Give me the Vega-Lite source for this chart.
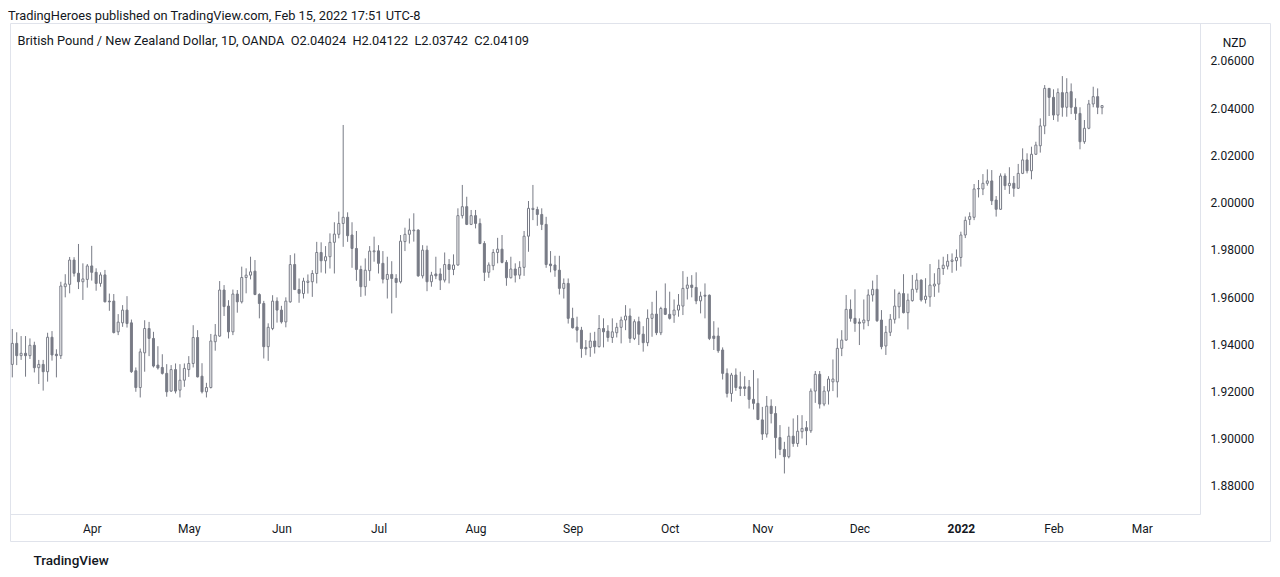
{
"$schema": "https://vega.github.io/schema/vega-lite/v6.json",
"width": 1260, "height": 518,
"autosize": {"type": "none"},
"padding": {"left": 10, "top": 23, "right": 10, "bottom": 36},
"background": "#ffffff",
"config": {"view": {"stroke": "#e0e3eb", "strokeWidth": 1}, "font": "Roboto"},
"title": {"text": "TradingHeroes published on TradingView.com, Feb 15, 2022 17:51 UTC-8", "subtitle": "\u200b\u00a0\u00a0\u00a0British Pound / New Zealand Dollar, 1D, OANDA\u00a0\u00a0O2.04024\u00a0\u00a0H2.04122\u00a0\u00a0L2.03742\u00a0\u00a0C2.04109", "anchor": "start", "frame": "group", "orient": "top", "offset": -25, "dx": -2, "font": "Roboto", "fontSize": 12.8, "fontWeight": "normal", "color": "#131722", "subtitleFont": "Roboto", "subtitleFontSize": 12.8, "subtitleColor": "#131722", "subtitlePadding": 12},
"data": {"values": [
{"d":"2021-03-08","o":1.9315,"h":1.9465,"l":1.9260,"c":1.9404},
{"d":"2021-03-09","o":1.9404,"h":1.9451,"l":1.9312,"c":1.9352},
{"d":"2021-03-10","o":1.9352,"h":1.9435,"l":1.9334,"c":1.9362},
{"d":"2021-03-11","o":1.9362,"h":1.9435,"l":1.9263,"c":1.9352},
{"d":"2021-03-12","o":1.9352,"h":1.9425,"l":1.9338,"c":1.9396},
{"d":"2021-03-15","o":1.9396,"h":1.9411,"l":1.9281,"c":1.9301},
{"d":"2021-03-16","o":1.9301,"h":1.9334,"l":1.9232,"c":1.9315},
{"d":"2021-03-17","o":1.9315,"h":1.9334,"l":1.9204,"c":1.9284},
{"d":"2021-03-18","o":1.9284,"h":1.9449,"l":1.9242,"c":1.9430},
{"d":"2021-03-19","o":1.9430,"h":1.9456,"l":1.9331,"c":1.9355},
{"d":"2021-03-22","o":1.9358,"h":1.9379,"l":1.9260,"c":1.9352},
{"d":"2021-03-23","o":1.9352,"h":1.9665,"l":1.9338,"c":1.9647},
{"d":"2021-03-24","o":1.9644,"h":1.9697,"l":1.9599,"c":1.9656},
{"d":"2021-03-25","o":1.9654,"h":1.9770,"l":1.9616,"c":1.9757},
{"d":"2021-03-26","o":1.9757,"h":1.9769,"l":1.9687,"c":1.9701},
{"d":"2021-03-29","o":1.9701,"h":1.9825,"l":1.9634,"c":1.9665},
{"d":"2021-03-30","o":1.9665,"h":1.9743,"l":1.9588,"c":1.9677},
{"d":"2021-03-31","o":1.9675,"h":1.9740,"l":1.9640,"c":1.9732},
{"d":"2021-04-01","o":1.9732,"h":1.9817,"l":1.9670,"c":1.9705},
{"d":"2021-04-02","o":1.9705,"h":1.9722,"l":1.9627,"c":1.9658},
{"d":"2021-04-05","o":1.9658,"h":1.9705,"l":1.9644,"c":1.9694},
{"d":"2021-04-06","o":1.9694,"h":1.9715,"l":1.9578,"c":1.9580},
{"d":"2021-04-07","o":1.9583,"h":1.9615,"l":1.9542,"c":1.9580},
{"d":"2021-04-08","o":1.9583,"h":1.9613,"l":1.9446,"c":1.9450},
{"d":"2021-04-09","o":1.9453,"h":1.9528,"l":1.9439,"c":1.9494},
{"d":"2021-04-12","o":1.9491,"h":1.9566,"l":1.9474,"c":1.9545},
{"d":"2021-04-13","o":1.9545,"h":1.9604,"l":1.9471,"c":1.9488},
{"d":"2021-04-14","o":1.9491,"h":1.9505,"l":1.9279,"c":1.9284},
{"d":"2021-04-15","o":1.9288,"h":1.9302,"l":1.9199,"c":1.9217},
{"d":"2021-04-16","o":1.9217,"h":1.9382,"l":1.9175,"c":1.9368},
{"d":"2021-04-19","o":1.9364,"h":1.9502,"l":1.9284,"c":1.9467},
{"d":"2021-04-20","o":1.9467,"h":1.9495,"l":1.9350,"c":1.9425},
{"d":"2021-04-21","o":1.9425,"h":1.9453,"l":1.9302,"c":1.9308},
{"d":"2021-04-22","o":1.9312,"h":1.9392,"l":1.9293,"c":1.9300},
{"d":"2021-04-23","o":1.9302,"h":1.9358,"l":1.9272,"c":1.9277},
{"d":"2021-04-26","o":1.9277,"h":1.9316,"l":1.9178,"c":1.9199},
{"d":"2021-04-27","o":1.9202,"h":1.9312,"l":1.9199,"c":1.9293},
{"d":"2021-04-28","o":1.9293,"h":1.9319,"l":1.9192,"c":1.9202},
{"d":"2021-04-29","o":1.9206,"h":1.9316,"l":1.9175,"c":1.9248},
{"d":"2021-04-30","o":1.9248,"h":1.9319,"l":1.9220,"c":1.9298},
{"d":"2021-05-03","o":1.9293,"h":1.9350,"l":1.9262,"c":1.9319},
{"d":"2021-05-04","o":1.9319,"h":1.9481,"l":1.9302,"c":1.9429},
{"d":"2021-05-05","o":1.9429,"h":1.9460,"l":1.9260,"c":1.9262},
{"d":"2021-05-06","o":1.9265,"h":1.9320,"l":1.9192,"c":1.9199},
{"d":"2021-05-07","o":1.9199,"h":1.9237,"l":1.9175,"c":1.9217},
{"d":"2021-05-10","o":1.9217,"h":1.9444,"l":1.9213,"c":1.9414},
{"d":"2021-05-11","o":1.9411,"h":1.9486,"l":1.9373,"c":1.9439},
{"d":"2021-05-12","o":1.9435,"h":1.9668,"l":1.9432,"c":1.9630},
{"d":"2021-05-13","o":1.9630,"h":1.9651,"l":1.9520,"c":1.9560},
{"d":"2021-05-14","o":1.9562,"h":1.9587,"l":1.9425,"c":1.9453},
{"d":"2021-05-17","o":1.9453,"h":1.9632,"l":1.9439,"c":1.9613},
{"d":"2021-05-18","o":1.9613,"h":1.9630,"l":1.9534,"c":1.9580},
{"d":"2021-05-19","o":1.9580,"h":1.9729,"l":1.9573,"c":1.9683},
{"d":"2021-05-20","o":1.9683,"h":1.9722,"l":1.9616,"c":1.9693},
{"d":"2021-05-21","o":1.9693,"h":1.9771,"l":1.9675,"c":1.9707},
{"d":"2021-05-24","o":1.9710,"h":1.9757,"l":1.9608,"c":1.9611},
{"d":"2021-05-25","o":1.9611,"h":1.9616,"l":1.9510,"c":1.9573},
{"d":"2021-05-26","o":1.9573,"h":1.9584,"l":1.9340,"c":1.9390},
{"d":"2021-05-27","o":1.9390,"h":1.9489,"l":1.9330,"c":1.9472},
{"d":"2021-05-28","o":1.9467,"h":1.9608,"l":1.9460,"c":1.9583},
{"d":"2021-05-31","o":1.9583,"h":1.9599,"l":1.9492,"c":1.9545},
{"d":"2021-06-01","o":1.9545,"h":1.9563,"l":1.9488,"c":1.9495},
{"d":"2021-06-02","o":1.9495,"h":1.9599,"l":1.9472,"c":1.9583},
{"d":"2021-06-03","o":1.9580,"h":1.9778,"l":1.9576,"c":1.9738},
{"d":"2021-06-04","o":1.9738,"h":1.9785,"l":1.9630,"c":1.9632},
{"d":"2021-06-07","o":1.9632,"h":1.9679,"l":1.9576,"c":1.9616},
{"d":"2021-06-08","o":1.9615,"h":1.9682,"l":1.9594,"c":1.9668},
{"d":"2021-06-09","o":1.9662,"h":1.9696,"l":1.9615,"c":1.9668},
{"d":"2021-06-10","o":1.9665,"h":1.9714,"l":1.9601,"c":1.9700},
{"d":"2021-06-11","o":1.9700,"h":1.9834,"l":1.9658,"c":1.9789},
{"d":"2021-06-14","o":1.9789,"h":1.9832,"l":1.9704,"c":1.9754},
{"d":"2021-06-15","o":1.9754,"h":1.9816,"l":1.9700,"c":1.9771},
{"d":"2021-06-16","o":1.9771,"h":1.9870,"l":1.9721,"c":1.9832},
{"d":"2021-06-17","o":1.9832,"h":1.9917,"l":1.9700,"c":1.9867},
{"d":"2021-06-18","o":1.9866,"h":1.9962,"l":1.9849,"c":1.9912},
{"d":"2021-06-21","o":1.9912,"h":2.0329,"l":1.9813,"c":1.9938},
{"d":"2021-06-22","o":1.9938,"h":1.9959,"l":1.9834,"c":1.9860},
{"d":"2021-06-23","o":1.9863,"h":1.9917,"l":1.9724,"c":1.9806},
{"d":"2021-06-24","o":1.9806,"h":1.9880,"l":1.9669,"c":1.9717},
{"d":"2021-06-25","o":1.9717,"h":1.9733,"l":1.9601,"c":1.9644},
{"d":"2021-06-28","o":1.9644,"h":1.9764,"l":1.9606,"c":1.9714},
{"d":"2021-06-29","o":1.9712,"h":1.9816,"l":1.9669,"c":1.9795},
{"d":"2021-06-30","o":1.9792,"h":1.9856,"l":1.9750,"c":1.9796},
{"d":"2021-07-01","o":1.9796,"h":1.9820,"l":1.9700,"c":1.9743},
{"d":"2021-07-02","o":1.9743,"h":1.9795,"l":1.9658,"c":1.9676},
{"d":"2021-07-05","o":1.9675,"h":1.9771,"l":1.9594,"c":1.9696},
{"d":"2021-07-06","o":1.9696,"h":1.9752,"l":1.9531,"c":1.9679},
{"d":"2021-07-07","o":1.9679,"h":1.9697,"l":1.9597,"c":1.9662},
{"d":"2021-07-08","o":1.9665,"h":1.9863,"l":1.9658,"c":1.9837},
{"d":"2021-07-09","o":1.9835,"h":1.9894,"l":1.9795,"c":1.9866},
{"d":"2021-07-12","o":1.9866,"h":1.9933,"l":1.9827,"c":1.9884},
{"d":"2021-07-13","o":1.9881,"h":1.9955,"l":1.9835,"c":1.9884},
{"d":"2021-07-14","o":1.9884,"h":1.9887,"l":1.9686,"c":1.9690},
{"d":"2021-07-15","o":1.9690,"h":1.9820,"l":1.9679,"c":1.9799},
{"d":"2021-07-16","o":1.9799,"h":1.9818,"l":1.9625,"c":1.9665},
{"d":"2021-07-19","o":1.9665,"h":1.9707,"l":1.9644,"c":1.9693},
{"d":"2021-07-20","o":1.9698,"h":1.9771,"l":1.9676,"c":1.9690},
{"d":"2021-07-21","o":1.9698,"h":1.9722,"l":1.9630,"c":1.9672},
{"d":"2021-07-22","o":1.9672,"h":1.9789,"l":1.9662,"c":1.9738},
{"d":"2021-07-23","o":1.9738,"h":1.9761,"l":1.9658,"c":1.9717},
{"d":"2021-07-26","o":1.9717,"h":1.9781,"l":1.9693,"c":1.9736},
{"d":"2021-07-27","o":1.9736,"h":1.9976,"l":1.9733,"c":1.9945},
{"d":"2021-07-28","o":1.9945,"h":2.0075,"l":1.9933,"c":1.9983},
{"d":"2021-07-29","o":1.9983,"h":2.0025,"l":1.9905,"c":1.9908},
{"d":"2021-07-30","o":1.9908,"h":1.9969,"l":1.9905,"c":1.9945},
{"d":"2021-08-02","o":1.9945,"h":1.9969,"l":1.9891,"c":1.9912},
{"d":"2021-08-03","o":1.9912,"h":1.9933,"l":1.9824,"c":1.9827},
{"d":"2021-08-04","o":1.9827,"h":1.9837,"l":1.9668,"c":1.9705},
{"d":"2021-08-05","o":1.9705,"h":1.9747,"l":1.9682,"c":1.9736},
{"d":"2021-08-06","o":1.9733,"h":1.9803,"l":1.9714,"c":1.9789},
{"d":"2021-08-09","o":1.9789,"h":1.9851,"l":1.9743,"c":1.9803},
{"d":"2021-08-10","o":1.9803,"h":1.9863,"l":1.9743,"c":1.9747},
{"d":"2021-08-11","o":1.9747,"h":1.9757,"l":1.9648,"c":1.9682},
{"d":"2021-08-12","o":1.9682,"h":1.9771,"l":1.9679,"c":1.9719},
{"d":"2021-08-13","o":1.9719,"h":1.9743,"l":1.9662,"c":1.9693},
{"d":"2021-08-16","o":1.9693,"h":1.9752,"l":1.9676,"c":1.9726},
{"d":"2021-08-17","o":1.9726,"h":1.9880,"l":1.9690,"c":1.9858},
{"d":"2021-08-18","o":1.9858,"h":2.0007,"l":1.9792,"c":1.9976},
{"d":"2021-08-19","o":1.9971,"h":2.0075,"l":1.9926,"c":1.9976},
{"d":"2021-08-20","o":1.9971,"h":1.9983,"l":1.9902,"c":1.9950},
{"d":"2021-08-23","o":1.9950,"h":1.9976,"l":1.9884,"c":1.9908},
{"d":"2021-08-24","o":1.9908,"h":1.9940,"l":1.9724,"c":1.9738},
{"d":"2021-08-25","o":1.9740,"h":1.9795,"l":1.9705,"c":1.9733},
{"d":"2021-08-26","o":1.9736,"h":1.9775,"l":1.9686,"c":1.9714},
{"d":"2021-08-27","o":1.9714,"h":1.9775,"l":1.9611,"c":1.9637},
{"d":"2021-08-30","o":1.9637,"h":1.9679,"l":1.9594,"c":1.9658},
{"d":"2021-08-31","o":1.9658,"h":1.9679,"l":1.9488,"c":1.9510},
{"d":"2021-09-01","o":1.9510,"h":1.9555,"l":1.9467,"c":1.9470},
{"d":"2021-09-02","o":1.9473,"h":1.9517,"l":1.9408,"c":1.9460},
{"d":"2021-09-03","o":1.9460,"h":1.9474,"l":1.9343,"c":1.9382},
{"d":"2021-09-06","o":1.9387,"h":1.9418,"l":1.9354,"c":1.9381},
{"d":"2021-09-07","o":1.9387,"h":1.9449,"l":1.9347,"c":1.9414},
{"d":"2021-09-08","o":1.9414,"h":1.9453,"l":1.9361,"c":1.9390},
{"d":"2021-09-09","o":1.9390,"h":1.9524,"l":1.9387,"c":1.9467},
{"d":"2021-09-10","o":1.9467,"h":1.9510,"l":1.9387,"c":1.9453},
{"d":"2021-09-13","o":1.9456,"h":1.9481,"l":1.9411,"c":1.9429},
{"d":"2021-09-14","o":1.9429,"h":1.9510,"l":1.9406,"c":1.9453},
{"d":"2021-09-15","o":1.9449,"h":1.9491,"l":1.9429,"c":1.9472},
{"d":"2021-09-16","o":1.9472,"h":1.9517,"l":1.9404,"c":1.9503},
{"d":"2021-09-17","o":1.9503,"h":1.9566,"l":1.9460,"c":1.9520},
{"d":"2021-09-20","o":1.9520,"h":1.9552,"l":1.9406,"c":1.9425},
{"d":"2021-09-21","o":1.9425,"h":1.9506,"l":1.9418,"c":1.9496},
{"d":"2021-09-22","o":1.9496,"h":1.9517,"l":1.9397,"c":1.9443},
{"d":"2021-09-23","o":1.9443,"h":1.9477,"l":1.9369,"c":1.9407},
{"d":"2021-09-24","o":1.9407,"h":1.9548,"l":1.9392,"c":1.9510},
{"d":"2021-09-27","o":1.9510,"h":1.9580,"l":1.9432,"c":1.9528},
{"d":"2021-09-28","o":1.9528,"h":1.9627,"l":1.9439,"c":1.9449},
{"d":"2021-09-29","o":1.9449,"h":1.9559,"l":1.9439,"c":1.9552},
{"d":"2021-09-30","o":1.9552,"h":1.9658,"l":1.9524,"c":1.9527},
{"d":"2021-10-01","o":1.9527,"h":1.9623,"l":1.9505,"c":1.9510},
{"d":"2021-10-04","o":1.9524,"h":1.9590,"l":1.9491,"c":1.9545},
{"d":"2021-10-05","o":1.9545,"h":1.9613,"l":1.9517,"c":1.9566},
{"d":"2021-10-06","o":1.9562,"h":1.9710,"l":1.9524,"c":1.9637},
{"d":"2021-10-07","o":1.9637,"h":1.9686,"l":1.9590,"c":1.9651},
{"d":"2021-10-08","o":1.9651,"h":1.9693,"l":1.9599,"c":1.9641},
{"d":"2021-10-11","o":1.9641,"h":1.9705,"l":1.9570,"c":1.9584},
{"d":"2021-10-12","o":1.9584,"h":1.9623,"l":1.9531,"c":1.9604},
{"d":"2021-10-13","o":1.9608,"h":1.9658,"l":1.9510,"c":1.9604},
{"d":"2021-10-14","o":1.9608,"h":1.9611,"l":1.9418,"c":1.9425},
{"d":"2021-10-15","o":1.9435,"h":1.9498,"l":1.9376,"c":1.9425},
{"d":"2021-10-18","o":1.9435,"h":1.9471,"l":1.9364,"c":1.9373},
{"d":"2021-10-19","o":1.9376,"h":1.9387,"l":1.9251,"c":1.9277},
{"d":"2021-10-20","o":1.9277,"h":1.9298,"l":1.9175,"c":1.9192},
{"d":"2021-10-21","o":1.9192,"h":1.9279,"l":1.9157,"c":1.9270},
{"d":"2021-10-22","o":1.9270,"h":1.9298,"l":1.9203,"c":1.9217},
{"d":"2021-10-25","o":1.9220,"h":1.9284,"l":1.9181,"c":1.9213},
{"d":"2021-10-26","o":1.9220,"h":1.9265,"l":1.9181,"c":1.9213},
{"d":"2021-10-27","o":1.9220,"h":1.9249,"l":1.9128,"c":1.9167},
{"d":"2021-10-28","o":1.9167,"h":1.9291,"l":1.9124,"c":1.9150},
{"d":"2021-10-29","o":1.9150,"h":1.9256,"l":1.9079,"c":1.9082},
{"d":"2021-11-01","o":1.9080,"h":1.9135,"l":1.8995,"c":1.9020},
{"d":"2021-11-02","o":1.9020,"h":1.9181,"l":1.9005,"c":1.9138},
{"d":"2021-11-03","o":1.9138,"h":1.9167,"l":1.9065,"c":1.9107},
{"d":"2021-11-04","o":1.9107,"h":1.9138,"l":1.8917,"c":1.9005},
{"d":"2021-11-05","o":1.9005,"h":1.9058,"l":1.8931,"c":1.8955},
{"d":"2021-11-08","o":1.8955,"h":1.8987,"l":1.8853,"c":1.8924},
{"d":"2021-11-09","o":1.8924,"h":1.9051,"l":1.8917,"c":1.9011},
{"d":"2021-11-10","o":1.9011,"h":1.9086,"l":1.8966,"c":1.8980},
{"d":"2021-11-11","o":1.8980,"h":1.9100,"l":1.8966,"c":1.9032},
{"d":"2021-11-12","o":1.9030,"h":1.9100,"l":1.9001,"c":1.9044},
{"d":"2021-11-15","o":1.9047,"h":1.9075,"l":1.8973,"c":1.9034},
{"d":"2021-11-16","o":1.9034,"h":1.9213,"l":1.9025,"c":1.9202},
{"d":"2021-11-17","o":1.9202,"h":1.9287,"l":1.9152,"c":1.9273},
{"d":"2021-11-18","o":1.9273,"h":1.9287,"l":1.9128,"c":1.9147},
{"d":"2021-11-19","o":1.9147,"h":1.9223,"l":1.9138,"c":1.9202},
{"d":"2021-11-22","o":1.9202,"h":1.9265,"l":1.9145,"c":1.9253},
{"d":"2021-11-23","o":1.9241,"h":1.9336,"l":1.9202,"c":1.9253},
{"d":"2021-11-24","o":1.9241,"h":1.9425,"l":1.9175,"c":1.9383},
{"d":"2021-11-25","o":1.9383,"h":1.9460,"l":1.9350,"c":1.9418},
{"d":"2021-11-26","o":1.9418,"h":1.9609,"l":1.9415,"c":1.9548},
{"d":"2021-11-29","o":1.9548,"h":1.9590,"l":1.9496,"c":1.9510},
{"d":"2021-11-30","o":1.9510,"h":1.9633,"l":1.9453,"c":1.9489},
{"d":"2021-12-01","o":1.9494,"h":1.9510,"l":1.9397,"c":1.9489},
{"d":"2021-12-02","o":1.9491,"h":1.9590,"l":1.9463,"c":1.9503},
{"d":"2021-12-03","o":1.9500,"h":1.9633,"l":1.9477,"c":1.9609},
{"d":"2021-12-06","o":1.9609,"h":1.9670,"l":1.9581,"c":1.9633},
{"d":"2021-12-07","o":1.9633,"h":1.9694,"l":1.9495,"c":1.9500},
{"d":"2021-12-08","o":1.9503,"h":1.9545,"l":1.9379,"c":1.9390},
{"d":"2021-12-09","o":1.9393,"h":1.9478,"l":1.9355,"c":1.9451},
{"d":"2021-12-10","o":1.9451,"h":1.9528,"l":1.9435,"c":1.9506},
{"d":"2021-12-13","o":1.9506,"h":1.9633,"l":1.9488,"c":1.9562},
{"d":"2021-12-14","o":1.9559,"h":1.9623,"l":1.9510,"c":1.9615},
{"d":"2021-12-15","o":1.9615,"h":1.9697,"l":1.9531,"c":1.9534},
{"d":"2021-12-16","o":1.9534,"h":1.9615,"l":1.9463,"c":1.9587},
{"d":"2021-12-17","o":1.9585,"h":1.9694,"l":1.9581,"c":1.9633},
{"d":"2021-12-20","o":1.9633,"h":1.9701,"l":1.9619,"c":1.9672},
{"d":"2021-12-21","o":1.9672,"h":1.9675,"l":1.9581,"c":1.9588},
{"d":"2021-12-22","o":1.9590,"h":1.9680,"l":1.9573,"c":1.9604},
{"d":"2021-12-23","o":1.9601,"h":1.9740,"l":1.9559,"c":1.9651},
{"d":"2021-12-24","o":1.9647,"h":1.9701,"l":1.9601,"c":1.9655},
{"d":"2021-12-27","o":1.9655,"h":1.9759,"l":1.9619,"c":1.9721},
{"d":"2021-12-28","o":1.9721,"h":1.9771,"l":1.9694,"c":1.9735},
{"d":"2021-12-29","o":1.9731,"h":1.9782,"l":1.9717,"c":1.9752},
{"d":"2021-12-30","o":1.9751,"h":1.9785,"l":1.9703,"c":1.9757},
{"d":"2021-12-31","o":1.9754,"h":1.9802,"l":1.9712,"c":1.9768},
{"d":"2022-01-03","o":1.9768,"h":1.9877,"l":1.9729,"c":1.9863},
{"d":"2022-01-04","o":1.9863,"h":1.9941,"l":1.9850,"c":1.9925},
{"d":"2022-01-05","o":1.9929,"h":1.9959,"l":1.9905,"c":1.9941},
{"d":"2022-01-06","o":1.9938,"h":2.0079,"l":1.9926,"c":2.0058},
{"d":"2022-01-07","o":2.0058,"h":2.0096,"l":2.0022,"c":2.0060},
{"d":"2022-01-10","o":2.0058,"h":2.0121,"l":2.0032,"c":2.0082},
{"d":"2022-01-11","o":2.0082,"h":2.0141,"l":2.0072,"c":2.0092},
{"d":"2022-01-12","o":2.0092,"h":2.0138,"l":1.9990,"c":2.0008},
{"d":"2022-01-13","o":2.0011,"h":2.0028,"l":1.9941,"c":1.9972},
{"d":"2022-01-14","o":1.9972,"h":2.0124,"l":1.9969,"c":2.0113},
{"d":"2022-01-17","o":2.0113,"h":2.0124,"l":2.0054,"c":2.0072},
{"d":"2022-01-18","o":2.0072,"h":2.0150,"l":2.0037,"c":2.0082},
{"d":"2022-01-19","o":2.0082,"h":2.0113,"l":2.0025,"c":2.0061},
{"d":"2022-01-20","o":2.0061,"h":2.0164,"l":2.0058,"c":2.0124},
{"d":"2022-01-21","o":2.0124,"h":2.0230,"l":2.0121,"c":2.0181},
{"d":"2022-01-24","o":2.0181,"h":2.0209,"l":2.0124,"c":2.0135},
{"d":"2022-01-25","o":2.0135,"h":2.0237,"l":2.0099,"c":2.0205},
{"d":"2022-01-26","o":2.0205,"h":2.0258,"l":2.0202,"c":2.0244},
{"d":"2022-01-27","o":2.0241,"h":2.0357,"l":2.0212,"c":2.0325},
{"d":"2022-01-28","o":2.0325,"h":2.0498,"l":2.0290,"c":2.0484},
{"d":"2022-01-31","o":2.0484,"h":2.0484,"l":2.0367,"c":2.0446},
{"d":"2022-02-01","o":2.0446,"h":2.0480,"l":2.0350,"c":2.0371},
{"d":"2022-02-02","o":2.0371,"h":2.0484,"l":2.0343,"c":2.0466},
{"d":"2022-02-03","o":2.0466,"h":2.0536,"l":2.0364,"c":2.0404},
{"d":"2022-02-04","o":2.0404,"h":2.0527,"l":2.0364,"c":2.0466},
{"d":"2022-02-07","o":2.0470,"h":2.0505,"l":2.0375,"c":2.0404},
{"d":"2022-02-08","o":2.0404,"h":2.0442,"l":2.0350,"c":2.0378},
{"d":"2022-02-09","o":2.0378,"h":2.0404,"l":2.0226,"c":2.0258},
{"d":"2022-02-10","o":2.0258,"h":2.0350,"l":2.0249,"c":2.0315},
{"d":"2022-02-11","o":2.0315,"h":2.0435,"l":2.0311,"c":2.0418},
{"d":"2022-02-14","o":2.0418,"h":2.0491,"l":2.0404,"c":2.0449},
{"d":"2022-02-15","o":2.0449,"h":2.0484,"l":2.0375,"c":2.0404},
{"d":"2022-02-16","o":2.04024,"h":2.04122,"l":2.03742,"c":2.04109}
]},
"transform": [{"window": [{"op": "row_number", "as": "n"}], "sort": [{"field": "d", "order": "ascending"}]}],
"encoding": {
  "x": {"field": "n", "type": "quantitative",
    "scale": {"domain": [0.479, 270.2], "range": [0, 1190], "padding": 0, "nice": false, "zero": false},
    "axis": {"orient": "bottom", "offset": -27, "values": [19,41,62,84,106,128,150,171,193,216,237,257],
      "labelExpr": "['Apr','May','Jun','Jul','Aug','Sep','Oct','Nov','Dec','2022','Feb','Mar'][indexof([19,41,62,84,106,128,150,171,193,216,237,257], datum.value)]",
      "labelFontWeight": {"condition": {"test": "datum.value == 216", "value": "bold"}, "value": "normal"},
      "ticks": false, "tickSize": 0, "grid": false, "labelPadding": 14, "labelBaseline": "middle",
      "labelFont": "Roboto", "labelFontSize": 12, "labelColor": "#131722", "labelOverlap": false, "labelFlush": false, "labelBound": false,
      "domainColor": "#e0e3eb", "domainWidth": 1,
      "title": "TradingView", "titleX": 23, "titleY": 46, "titleAlign": "left", "titleAnchor": "start", "titleBaseline": "middle",
      "titleFont": "Roboto", "titleFontSize": 13.5, "titleFontWeight": 500, "titleColor": "#131722"}
  }
},
"layer": [
  {"mark": {"type": "rule", "color": "#787B86", "strokeWidth": 1, "clip": true},
   "encoding": {
     "y": {"field": "l", "type": "quantitative",
       "scale": {"domain": [1.86814, 2.07609], "range": [491, 0], "nice": false, "zero": false},
       "axis": {"orient": "right", "offset": -70, "values": [1.88,1.9,1.92,1.94,1.96,1.98,2.0,2.02,2.04,2.06], "format": ".5f",
         "ticks": false, "tickSize": 0, "grid": false, "labelPadding": 10, "labelAlign": "left", "labelBaseline": "middle",
         "labelFont": "Roboto", "labelFontSize": 12, "labelColor": "#131722", "labelOverlap": false, "labelFlush": false, "labelBound": false,
         "domainColor": "#e0e3eb", "domainWidth": 1,
         "title": "NZD", "titleAngle": 0, "titleX": 34, "titleY": 19, "titleAlign": "center", "titleBaseline": "middle",
         "titleFont": "Roboto", "titleFontSize": 12, "titleFontWeight": "normal", "titleColor": "#131722"}},
     "y2": {"field": "h"}
   }},
  {"mark": {"type": "bar", "width": 2, "stroke": "#787B86", "strokeWidth": 1, "clip": true},
   "encoding": {
     "y": {"field": "o", "type": "quantitative",
       "scale": {"domain": [1.86814, 2.07609], "range": [491, 0], "nice": false, "zero": false},
       "axis": {"orient": "right", "offset": -70, "values": [1.88,1.9,1.92,1.94,1.96,1.98,2.0,2.02,2.04,2.06], "format": ".5f",
         "ticks": false, "tickSize": 0, "grid": false, "labelPadding": 10, "labelAlign": "left", "labelBaseline": "middle",
         "labelFont": "Roboto", "labelFontSize": 12, "labelColor": "#131722", "labelOverlap": false, "labelFlush": false, "labelBound": false,
         "domainColor": "#e0e3eb", "domainWidth": 1,
         "title": "NZD", "titleAngle": 0, "titleX": 34, "titleY": 19, "titleAlign": "center", "titleBaseline": "middle",
         "titleFont": "Roboto", "titleFontSize": 12, "titleFontWeight": "normal", "titleColor": "#131722"}},
     "y2": {"field": "c"},
     "fill": {"condition": {"test": "datum.c >= datum.o", "value": "#ffffff"}, "value": "#787B86"}
   }}
]
}
